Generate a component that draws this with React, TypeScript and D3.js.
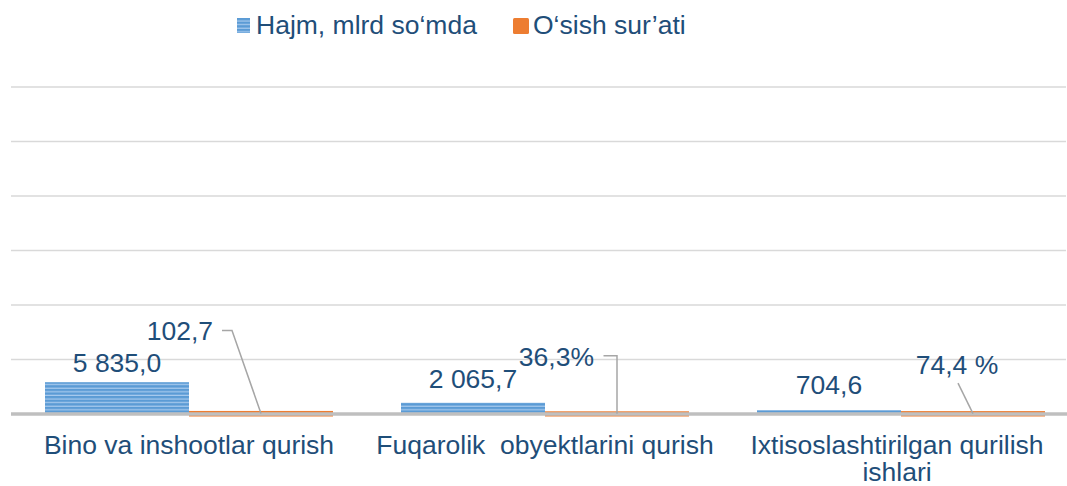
import React from "react";
import * as d3 from "d3";

const categories: string[][] = [
  ["Bino va inshootlar qurish"],
  ["Fuqarolik  obyektlarini qurish"],
  ["Ixtisoslashtirilgan qurilish", "ishlari"],
];
const seriesNames = ["Hajm, mlrd so‘mda", "O‘sish sur’ati"];
const volumeValues = [5835.0, 2065.7, 704.6];
const growthValues = [102.7, 36.3, 74.4];
const volumeLabels = ["5 835,0", "2 065,7", "704,6"];
const growthLabels = ["102,7", "36,3%", "74,4 %"];
const yTicks = [0, 10000, 20000, 30000, 40000, 50000, 60000];

// manual label offsets (labels moved by hand in the source chart)
const volLabelDy = [-10, -15, -16];
const growthLabelPos = [
  { dx: -48, dy: -73, kind: "elbow" },
  { dx: -23, dy: -48, kind: "vert" },
  { dx: -16, dy: -40, kind: "diag" },
];

const W = 1067;
const H = 486;
const FONT = "'Liberation Sans', Arial, sans-serif";
const TEXT = "#1F4E79";
const BLUE = "#5B9BD5";
const ORANGE = "#ED7D31";
const FS = 26.5;

export default function App() {
  const x0 = d3.scaleBand<number>().domain([0, 1, 2]).range([11, 1079]).padding(0);
  const x1 = d3.scaleBand<number>().domain([0, 1]).range([34, 322]).padding(0);
  const y = d3.scaleLinear().domain([0, 60000]).range([414, 87]);

  return (
    <svg
      width={W}
      height={H}
      style={{ position: "absolute", left: 0, top: 0, background: "#fff" }}
      fontFamily={FONT}
    >
      <defs>
        <pattern id="stripes" patternUnits="userSpaceOnUse" width={8} height={3.6}>
          <rect width={8} height={3.6} fill={BLUE} />
          <rect y={2.4} width={8} height={1.2} fill="#A9CBEE" />
        </pattern>
      </defs>
      <rect width={W} height={H} fill="#fff" />
      {yTicks.slice(1).map((t) => (
        <line key={t} x1={11} x2={1066} y1={y(t)} y2={y(t)} stroke="#D9D9D9" strokeWidth={1.3} />
      ))}
      {volumeValues.map((v, i) => {
        const bx = x0(i)! + x1(0)!;
        return (
          <rect key={"v" + i} x={bx} y={y(v)} width={x1.bandwidth()} height={y(0) - y(v)} fill="url(#stripes)" />
        );
      })}
      {growthValues.map((v, i) => {
        const bx = x0(i)! + x1(1)!;
        return (
          <rect key={"g" + i} x={bx} y={y(v) - 2.5} width={x1.bandwidth()} height={y(0) - y(v) + 5} fill={ORANGE} />
        );
      })}
      <line x1={11} x2={W} y1={y(0)} y2={y(0)} stroke="#BFBFBF" strokeWidth={3.6} />
      {volumeValues.map((v, i) => {
        const cx = x0(i)! + x1(0)! + x1.bandwidth() / 2;
        return (
          <text key={"vl" + i} x={cx} y={y(v) + volLabelDy[i]} textAnchor="middle" fontSize={FS} fill={TEXT}>
            {volumeLabels[i]}
          </text>
        );
      })}
      {growthValues.map((v, i) => {
        const cx = x0(i)! + x1(1)! + x1.bandwidth() / 2;
        const top = y(v);
        const p = growthLabelPos[i];
        const tx = cx + p.dx;
        const ty = top + p.dy;
        let path = "";
        let anchor: "end" | "middle" = "end";
        if (p.kind === "elbow") {
          path = `M${tx + 9},${ty - 10} H${tx + 19} L${cx},${top}`;
        } else if (p.kind === "vert") {
          path = `M${tx + 9.5},${ty - 10} H${cx} V${top}`;
        } else {
          path = `M${tx + 1},${ty + 9.5} L${cx},${top}`;
          anchor = "middle";
        }
        return (
          <g key={"gl" + i}>
            <path d={path} fill="none" stroke="#A6A6A6" strokeWidth={1.5} />
            <text x={tx} y={ty} textAnchor={anchor} fontSize={FS} fill={TEXT}>
              {growthLabels[i]}
            </text>
          </g>
        );
      })}
      {categories.map((lines, i) => {
        const cx = x0(i)! + x0.bandwidth() / 2 - (i === 2 ? 4 : 0);
        return (
          <text key={"c" + i} textAnchor="middle" fontSize={FS} fill={TEXT}>
            {lines.map((l, j) => (
              <tspan key={j} x={cx} y={454 + j * 26.5} style={{ whiteSpace: "pre" }}>
                {l}
              </tspan>
            ))}
          </text>
        );
      })}
      <rect x={237} y={18} width={13} height={15} fill="url(#stripes)" />
      <text x={256} y={34} fontSize={FS} fill={TEXT}>
        {seriesNames[0]}
      </text>
      <rect x={513} y={18} width={16} height={16} rx={1.5} fill={ORANGE} />
      <text x={533} y={34} fontSize={FS} fill={TEXT}>
        {seriesNames[1]}
      </text>
    </svg>
  );
}
